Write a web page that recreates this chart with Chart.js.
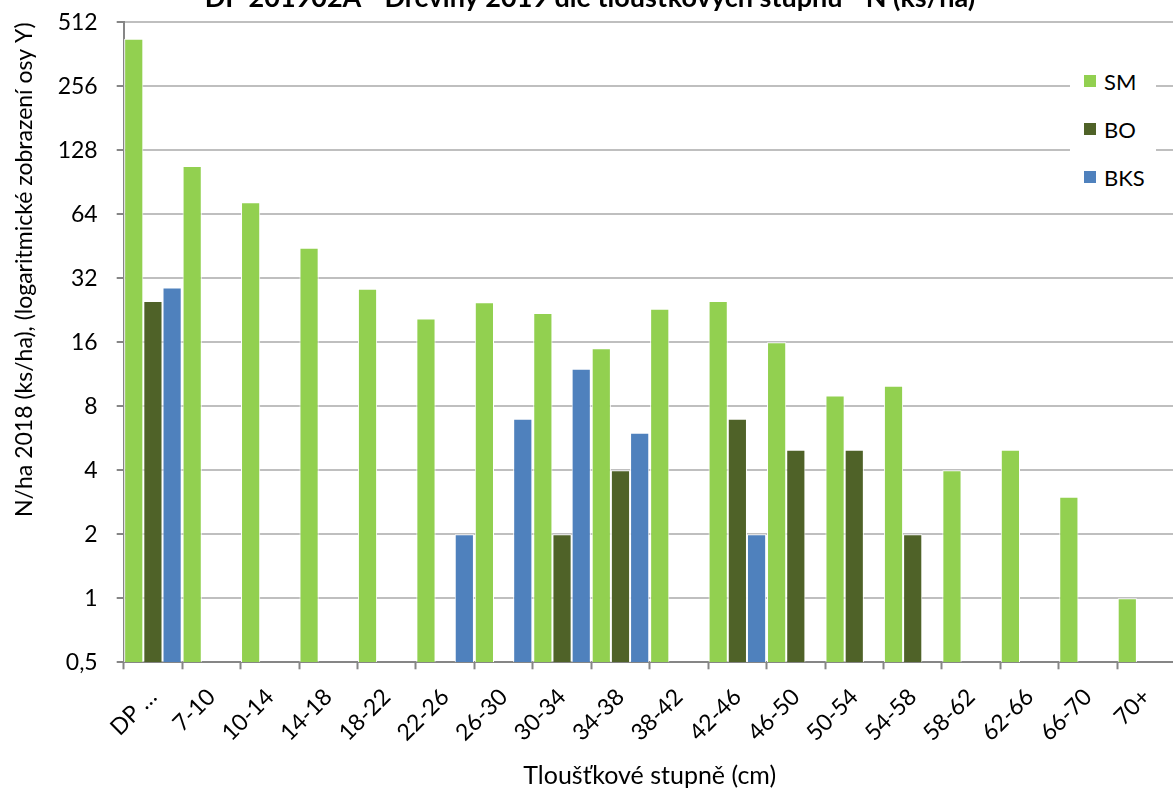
<!DOCTYPE html>
<html>
<head>
<meta charset="utf-8">
<title>Dřeviny 2019 dle tloušťkových stupňů</title>
<script src="https://cdn.jsdelivr.net/npm/chart.js@4.4.1/dist/chart.umd.min.js"></script>
<style>
  html, body { margin: 0; padding: 0; background: #fff; overflow: hidden; width: 1173px; height: 791px; }
  #wrap { position: absolute; left: 0; top: -18px; width: 1180px; height: 809px; }
  #legend { position: absolute; left: 1070px; top: 57px; width: 86px; height: 146px; background: #fff;
            font-family: Lato, "Noto Sans", sans-serif; font-size: 22px; color: #000; }
  #legend .item { height: 48px; display: flex; align-items: center; padding-left: 14px; }
  #legend .sw { width: 12px; height: 12px; margin-right: 8px; }
</style>
</head>
<body>
<div id="wrap"><canvas id="c" width="1180" height="809"></canvas></div>
<div id="legend"></div>
<script>
// Diameter classes (cm) and stem counts per hectare for each species
const categories = ['DP …', '7-10', '10-14', '14-18', '18-22', '22-26', '26-30', '30-34', '34-38',
                    '38-42', '42-46', '46-50', '50-54', '54-58', '58-62', '62-66', '66-70', '70+'];
const smValues  = [428, 108, 73, 44.6, 28.6, 20.7, 24.7, 22, 15, 23, 25, 16, 9, 10, 4, 5, 3, 1];
const boValues  = [25, null, null, null, null, null, null, 2, 4, null, 7, 5, 5, 2, null, null, null, null];
const bksValues = [29, null, null, null, null, 2, 7, 12, 6, null, 2, null, null, null, null, null, null, null];

const seriesNames  = ['SM', 'BO', 'BKS'];
const seriesColors = ['#92D050', '#4F6228', '#4F81BD'];

// Log2 axis ticks
const yTickValues = [0.5, 1, 2, 4, 8, 16, 32, 64, 128, 256, 512];
const yTickLabels = ['0,5', '1', '2', '4', '8', '16', '32', '64', '128', '256', '512'];

const FONT = 'Lato, "Noto Sans", sans-serif';
const seriesData = [smValues, boValues, bksValues];

const datasets = seriesNames.map((name, i) => ({
  label: name,
  data: seriesData[i],
  backgroundColor: seriesColors[i],
  borderColor: '#ffffff',
  borderWidth: 1,
  categoryPercentage: 0.985,
  barPercentage: 1
}));

new Chart(document.getElementById('c'), {
  type: 'bar',
  data: { labels: categories, datasets },
  options: {
    responsive: false,
    animation: false,
    devicePixelRatio: 1,
    layout: { padding: 0 },
    plugins: {
      legend: { display: false },
      tooltip: { enabled: false },
      title: {
        display: true,
        text: 'DP 201902A - Dřeviny 2019 dle tloušťkových stupňů - N (ks/ha)',
        color: '#000',
        font: { family: FONT, size: 27, weight: 'bold' },
        padding: { top: 0, bottom: 7.9 }
      }
    },
    scales: {
      x: {
        afterFit: s => { s.height = 128.7; },
        ticks: {
          color: '#000', font: { family: FONT, size: 23 },
          minRotation: 45, maxRotation: 45, autoSkip: false, padding: 14
        },
        grid: { drawOnChartArea: false, offset: true, tickColor: '#868686', tickLength: 7, tickWidth: 2 },
        border: { color: '#868686', width: 2 },
        title: {
          display: true, text: 'Tloušťkové stupně (cm)', color: '#000',
          font: { family: FONT, size: 25 }, padding: { top: 0, bottom: 0 }
        }
      },
      y: {
        type: 'logarithmic',
        min: 0.5, max: 512,
        afterFit: s => { s.width = 123.7; },
        afterBuildTicks: s => { s.ticks = yTickValues.map(v => ({ value: v })); },
        ticks: {
          color: '#000', font: { family: FONT, size: 23 }, padding: 19, autoSkip: false,
          callback: v => { const k = yTickValues.indexOf(v); return k >= 0 ? yTickLabels[k] : ''; }
        },
        grid: { color: '#BFBFBF', lineWidth: 2, tickColor: '#868686', tickLength: 7, tickWidth: 2 },
        border: { color: '#868686', width: 2 },
        title: {
          display: true, text: 'N/ha 2018 (ks/ha), (logaritmické zobrazení osy Y)', align: 'end',
          color: '#000', font: { family: FONT, size: 23 }, padding: { top: 11, bottom: 0 }
        }
      }
    }
  }
});

// Legend box over the plot
const legendEl = document.getElementById('legend');
seriesNames.forEach((name, i) => {
  const row = document.createElement('div');
  row.className = 'item';
  const sw = document.createElement('span');
  sw.className = 'sw';
  sw.style.background = seriesColors[i];
  const tx = document.createElement('span');
  tx.textContent = name;
  row.appendChild(sw);
  row.appendChild(tx);
  legendEl.appendChild(row);
});
</script>
</body>
</html>
